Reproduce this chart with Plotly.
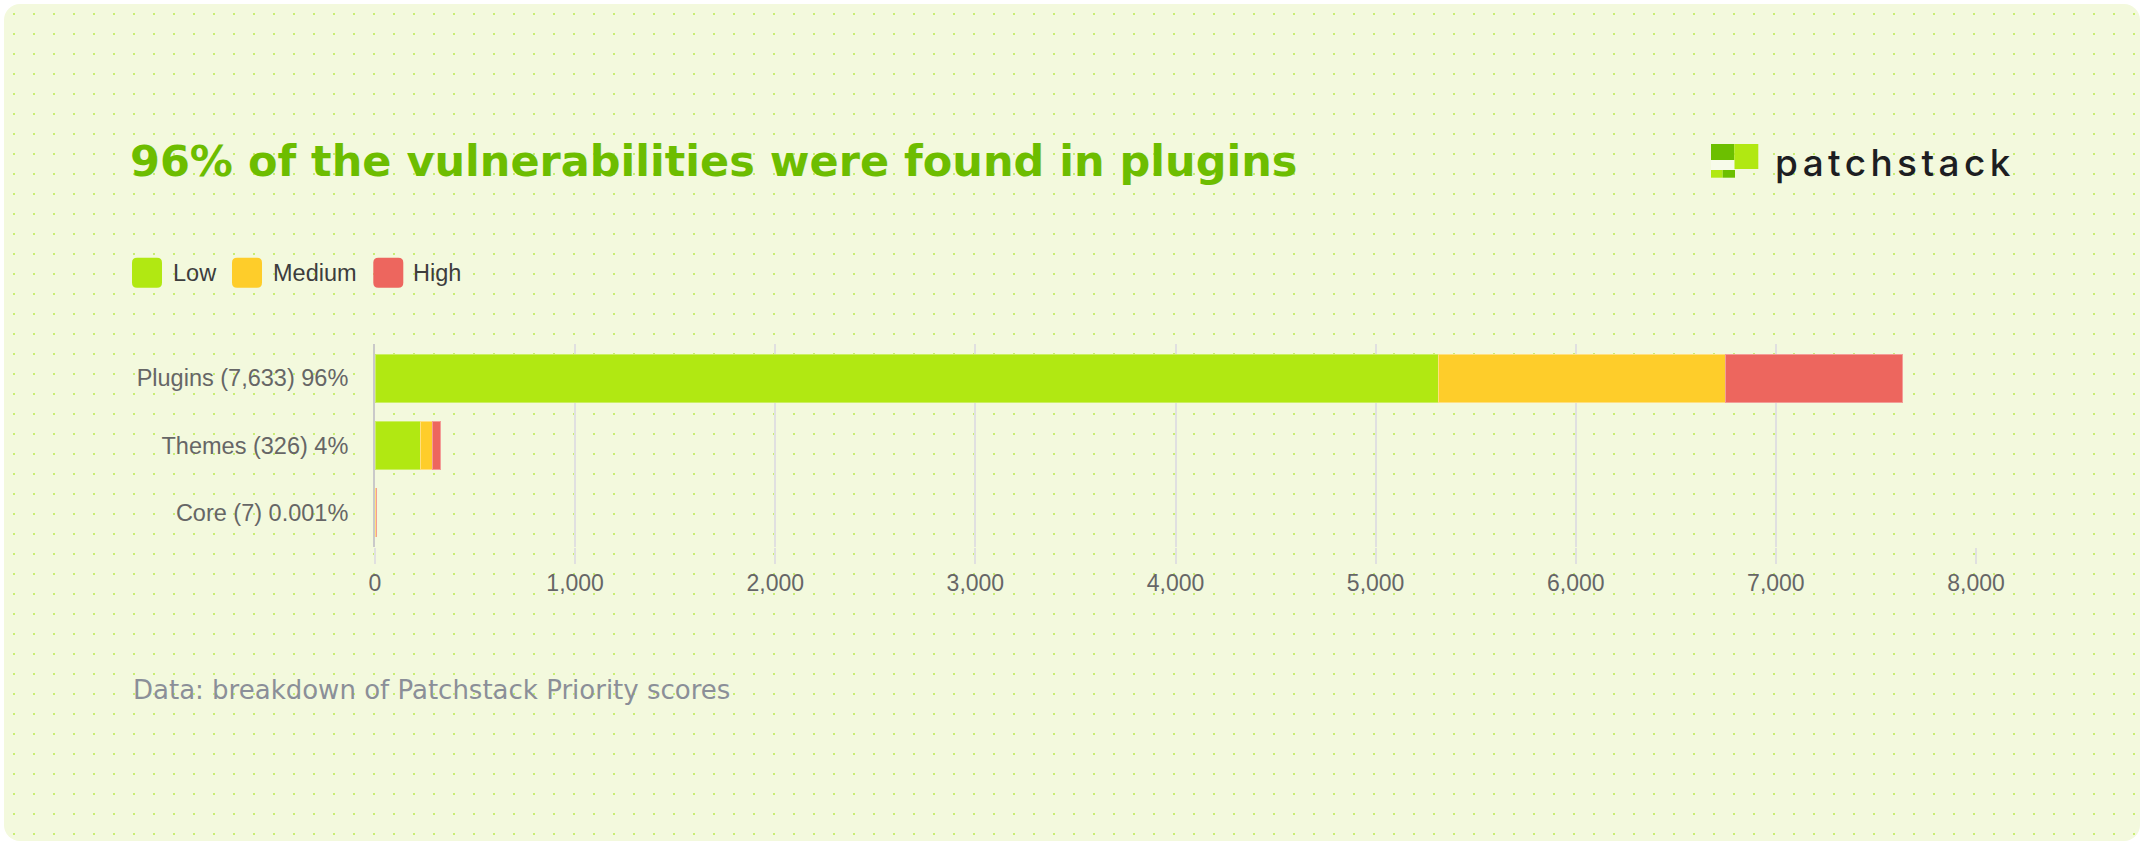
import base64
import plotly.graph_objects as go

# ---------------- data ----------------
categories = ["Plugins (7,633) 96%", "Themes (326) 4%", "Core (7) 0.001%"]
series_names = ["Low", "Medium", "High"]
low_values = [5313, 226, 4]
medium_values = [1437, 60, 2]
high_values = [883, 40, 1]
x_tick_values = [0, 1000, 2000, 3000, 4000, 5000, 6000, 7000, 8000]

title_text = "96% of the vulnerabilities were found in plugins"
footer_text = "Data: breakdown of Patchstack Priority scores"
brand_text = "patchstack"

# ---------------- styles ----------------
W, H = 2144, 845
COL = {"Low": "#b1e812", "Medium": "#fecd2a", "High": "#ed665e"}
EDGE = {"Low": "#cbef62", "Medium": "#ffdf7f", "High": "#f39d97"}
TITLE_GREEN = "#6dbd00"
LABEL_GREY = "#666666"
LEGEND_TXT = "#3d3d3d"
FOOT_GREY = "#8b8f98"
GRID = "#e0e0e0"


def px(x):
    return x / W


def py(y):
    return 1 - y / H


# background card with dotted pattern
svg = f'''<svg xmlns="http://www.w3.org/2000/svg" width="{W}" height="{H}" viewBox="0 0 {W} {H}">
<defs><pattern id="d" width="20" height="20" patternUnits="userSpaceOnUse">
<rect x="13" y="13" width="2" height="2" fill="#c8ed74"/></pattern></defs>
<rect x="4" y="4" width="{W-8}" height="{H-8}" rx="16" ry="16" fill="#f3f9dd"/>
<rect x="4" y="4" width="{W-8}" height="{H-8}" rx="16" ry="16" fill="url(#d)"/>
</svg>'''
bg_src = "data:image/svg+xml;base64," + base64.b64encode(svg.encode()).decode()

fig = go.Figure()
for name, vals in zip(series_names, [low_values, medium_values, high_values]):
    fig.add_trace(go.Bar(
        y=categories, x=vals, name=name, orientation="h",
        marker=dict(color=COL[name], line=dict(color=EDGE[name], width=1)),
        showlegend=False, hoverinfo="x+name",
    ))

shapes = []
annotations = []

# custom legend
legend_boxes = [(132, 172.7), (232, 272.7), (373.3, 413.3)]
for name, (bx, tx) in zip(series_names, legend_boxes):
    x0, x1, y0, y1 = bx, bx + 30, 257.7, 287.7
    r = 5
    path = (f"M {px(x0+r)},{py(y0)} L {px(x1-r)},{py(y0)} Q {px(x1)},{py(y0)} {px(x1)},{py(y0+r)} "
            f"L {px(x1)},{py(y1-r)} Q {px(x1)},{py(y1)} {px(x1-r)},{py(y1)} "
            f"L {px(x0+r)},{py(y1)} Q {px(x0)},{py(y1)} {px(x0)},{py(y1-r)} "
            f"L {px(x0)},{py(y0+r)} Q {px(x0)},{py(y0)} {px(x0+r)},{py(y0)} Z")
    shapes.append(dict(type="path", path=path, xref="paper", yref="paper",
                       fillcolor=COL[name], line=dict(width=0)))
    annotations.append(dict(text=name, x=px(tx - 2), y=py(273), xref="paper", yref="paper",
                            xanchor="left", yanchor="middle", showarrow=False,
                            font=dict(family="Liberation Sans, Arial", size=23.5, color=LEGEND_TXT)))

# logo icon
logo_rects = [
    (1711, 1734.3, 144, 160, "#6cbf00"),
    (1734.3, 1758.3, 144, 169, "#b1e812"),
    (1711, 1734.3, 160, 170, "#f7fbea"),
    (1711, 1722.7, 170, 177.7, "#b1e812"),
    (1722.7, 1735, 170, 177.7, "#6cbf00"),
]
for x0, x1, y0, y1, c in logo_rects:
    shapes.append(dict(type="rect", xref="paper", yref="paper", x0=px(x0), x1=px(x1),
                       y0=py(y1), y1=py(y0), fillcolor=c, line=dict(width=0)))

annotations.append(dict(text=f"<span style='letter-spacing:4.4px'>{brand_text}</span>",
                        x=px(1773), y=py(162), xref="paper", yref="paper",
                        xanchor="left", yanchor="middle", showarrow=False,
                        font=dict(family="Inter", size=37, color="#1d1e22", weight=500)))

# title
annotations.append(dict(text=title_text, x=px(128), y=py(161), xref="paper", yref="paper",
                        xanchor="left", yanchor="middle", showarrow=False,
                        font=dict(family="DejaVu Sans", size=43, color=TITLE_GREEN, weight=700)))

# footer
annotations.append(dict(text=footer_text, x=px(131), y=py(690), xref="paper", yref="paper",
                        xanchor="left", yanchor="middle", showarrow=False,
                        font=dict(family="DejaVu Sans", size=26, color=FOOT_GREY)))

fig.update_layout(
    width=W, height=H,
    margin=dict(l=0, r=0, t=0, b=0),
    paper_bgcolor="#ffffff",
    plot_bgcolor="rgba(0,0,0,0)",
    barmode="stack",
    bargap=0.287,
    showlegend=False,
    shapes=shapes,
    annotations=annotations,
    images=[dict(source=bg_src, xref="paper", yref="paper", x=0, y=1, sizex=1, sizey=1,
                 xanchor="left", yanchor="top", sizing="stretch", layer="below")],
    xaxis=dict(
        domain=[px(375), px(1976)], range=[0, 8000], tickvals=x_tick_values, tickformat=",",
        showgrid=True, gridcolor=GRID, gridwidth=1.5, zeroline=False, showline=False,
        ticks="outside", ticklen=16, tickcolor=GRID, tickwidth=1.5,
        tickfont=dict(family="Liberation Sans, Arial", size=23, color=LABEL_GREY),
        automargin=False, fixedrange=True,
    ),
    yaxis=dict(
        domain=[py(546.6), py(344.4)], categoryorder="array", categoryarray=categories,
        autorange="reversed", showgrid=False, zeroline=False,
        showline=True, linecolor="#c9c9c9", linewidth=2,
        ticks="", ticklabelstandoff=20,
        tickfont=dict(family="Liberation Sans, Arial", size=23.5, color=LABEL_GREY),
        automargin=False, fixedrange=True,
    ),
)

fig.write_html("out.html", config={"displayModeBar": False},
               post_script="document.body.style.margin='0';")
